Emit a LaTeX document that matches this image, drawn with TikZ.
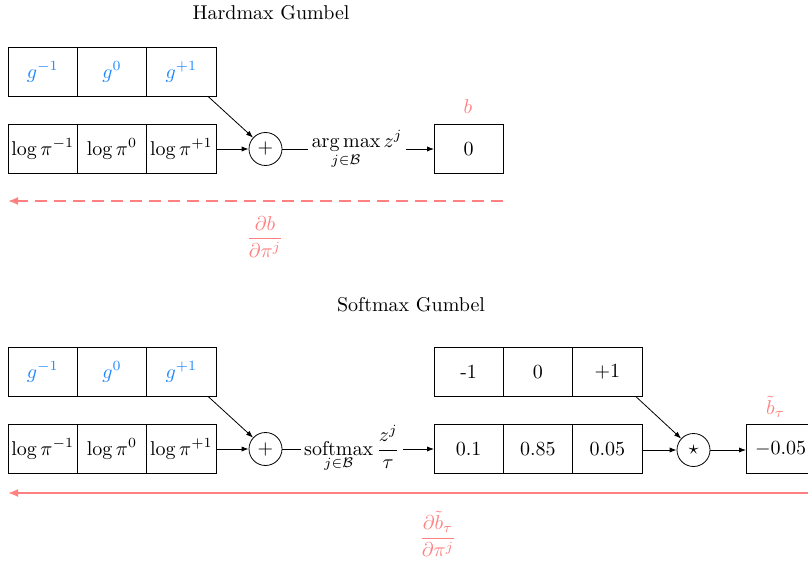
\documentclass[tikz,border=0pt]{standalone}
\usepackage{amsmath}
\usetikzlibrary{arrows.meta}
\definecolor{gblue}{RGB}{30,136,255}
\definecolor{gred}{RGB}{255,128,128}
\begin{document}
\begin{tikzpicture}[x=0.5pt,y=-0.5pt,
  cell/.style={draw, minimum width=34.65pt, minimum height=24.3pt, inner sep=0pt, outer sep=0pt},
  op/.style={draw, circle, minimum size=16.5pt, inner sep=0pt},
  arr/.style={-{Latex[length=3.5pt,width=2.6pt]}},
  grad/.style={draw=gred, line width=0.9pt, -{Latex[length=5pt,width=4pt]}},
  gl/.style={text=gblue},
  rl/.style={text=gred}]
\useasboundingbox (0,0) rectangle (808,561);

% ---------------- Hardmax Gumbel ----------------
\node (htitle) at (271,13) {Hardmax Gumbel};

\node[cell,gl] (hg1) at (42.65,72) {$g^{-1}$};
\node[cell,gl] (hg2) at (111.95,72) {$g^{0}$};
\node[cell,gl] (hg3) at (181.3,72) {$g^{+1}$};

\node[cell] (hl1) at (42.65,149) {$\log\pi^{-1}$};
\node[cell] (hl2) at (111.95,149) {$\log\pi^{0}$};
\node[cell] (hl3) at (181.3,149) {$\log\pi^{+1}$};

\node[op] (hplus) at (265.5,149) {$+$};
\node[anchor=base, inner sep=1.5pt] (hlab) at (357,148) {$\displaystyle\operatorname*{arg\,max}_{j\in\mathcal{B}} z^j$};
\node[cell] (hout) at (468.65,149) {0};
\node[rl] (hb) at (468,107) {$b$};

\draw[arr] ([xshift=-4pt]hg3.south east) -- (hplus);
\draw[arr] (hl3) -- (hplus);
\draw (hplus) -- (hplus -| hlab.west);
\draw[arr] (hlab.east |- hplus) -- (hout);

\coordinate (hgs) at (503,201);
\coordinate (hge) at (8,201);
\draw[grad, dash pattern=on 6pt off 3.5pt] (hgs) -- (hge);
\node[rl] (hd) at (265,237) {$\dfrac{\partial b}{\partial \pi^j}$};

% ---------------- Softmax Gumbel ----------------
\node (stitle) at (411,305) {Softmax Gumbel};

\node[cell,gl] (sg1) at (42.65,372) {$g^{-1}$};
\node[cell,gl] (sg2) at (111.95,372) {$g^{0}$};
\node[cell,gl] (sg3) at (181.3,372) {$g^{+1}$};

\node[cell] (sl1) at (42.65,449) {$\log\pi^{-1}$};
\node[cell] (sl2) at (111.95,449) {$\log\pi^{0}$};
\node[cell] (sl3) at (181.3,449) {$\log\pi^{+1}$};

\node[op] (splus) at (265.5,449) {$+$};
\node[anchor=base, inner sep=1.5pt] (slab) at (352,455) {$\displaystyle\operatorname*{softmax}_{j\in\mathcal{B}} \frac{z^j}{\tau}$};

\node[cell] (sv1) at (468.65,372) {-1};
\node[cell] (sv2) at (537.95,372) {0};
\node[cell] (sv3) at (607.3,372) {+1};

\node[cell] (sp1) at (468.65,449) {0.1};
\node[cell] (sp2) at (537.95,449) {0.85};
\node[cell] (sp3) at (607.3,449) {0.05};

\node[op] (sstar) at (693.5,450) {$\star$};
\node[cell] (sout) at (780.65,449) {$-0.05$};
\node[rl] (sb) at (775.5,407) {$\tilde b_\tau$};

\draw[arr] ([xshift=-4pt]sg3.south east) -- (splus);
\draw[arr] (sl3) -- (splus);
\draw (splus) -- (splus -| slab.west);
\draw[arr] (slab.east |- splus) -- (sp1.west |- splus);
\draw[arr] ([xshift=-3.2pt]sv3.south east) -- (sstar);
\draw[arr] (sp3.east |- sstar) -- (sstar);
\draw[arr] (sstar) -- (sout.west |- sstar);

\coordinate (sgs) at (816,493);
\coordinate (sge) at (8,493);
\draw[grad] (sgs) -- (sge);
\node[rl] (sd) at (438,534) {$\dfrac{\partial \tilde b_\tau}{\partial \pi^j}$};
\end{tikzpicture}
\end{document}
